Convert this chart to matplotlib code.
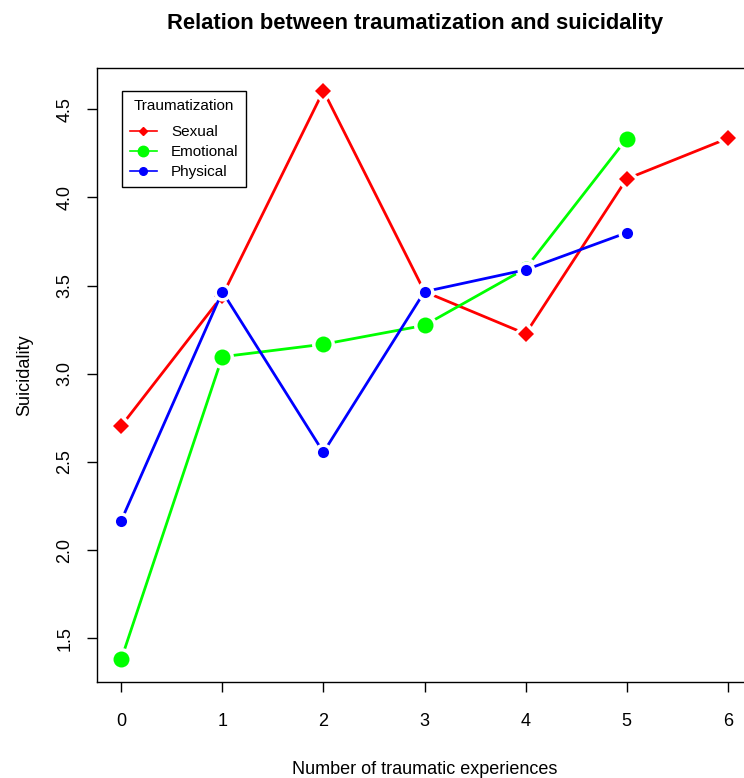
import matplotlib
matplotlib.use("Agg")
import matplotlib.pyplot as plt
from matplotlib.lines import Line2D

plt.rcParams['font.family'] = ['Liberation Sans', 'DejaVu Sans']

x_sexual = [0, 1, 2, 3, 4, 5, 6]
sexual = [2.705, 3.443, 4.605, 3.466, 3.227, 4.105, 4.335]
x_emotional = [0, 1, 2, 3, 4, 5]
emotional = [1.382, 3.097, 3.168, 3.275, 3.597, 4.333]
x_physical = [0, 1, 2, 3, 4, 5]
physical = [2.168, 3.466, 2.555, 3.466, 3.590, 3.800]
xticks = [0, 1, 2, 3, 4, 5, 6]
yticks = [1.5, 2.0, 2.5, 3.0, 3.5, 4.0, 4.5]

W, H = 744, 778
fig = plt.figure(figsize=(W / 100, H / 100), dpi=100)
ax = fig.add_axes([97 / W, (H - 682) / H, (752 - 97) / W, (682 - 68) / H])

series = [
    (x_sexual, sexual, '#ff0000', 'D', 8.0, 'Sexual'),
    (x_emotional, emotional, '#00ff00', 'o', 11.5, 'Emotional'),
    (x_physical, physical, '#0000ff', 'o', 8.0, 'Physical'),
]
z = 3
for xs, ys, c, m, ms, lab in series:
    # line with white gap masks around points (R type="b")
    ax.plot(xs, ys, color=c, lw=2, marker=m, ms=ms + 5, mfc='white', mec='white',
            mew=0, zorder=z)
    ax.plot(xs, ys, ls='none', marker=m, ms=ms, mfc=c, mec=c, mew=0, zorder=z + 0.5)
    z += 1

allx = x_sexual + x_emotional + x_physical
ally = sexual + emotional + physical
xr = max(allx) - min(allx)
yr = max(ally) - min(ally)
ax.set_xlim(min(allx) - 0.04 * xr, max(allx) + 0.04 * xr)
ax.set_ylim(min(ally) - 0.04 * yr, max(ally) + 0.04 * yr)

ax.set_xticks(xticks)
ax.set_xticklabels([str(v) for v in xticks])
ax.set_yticks(yticks)
ax.set_yticklabels([f"{v:.1f}" for v in yticks], rotation=90, va='center')
ax.tick_params(direction='out', length=7, width=1, labelsize=13)
ax.tick_params(axis='x', pad=15)
ax.tick_params(axis='y', pad=10)
for s in ax.spines.values():
    s.set_linewidth(1)
ax.spines['right'].set_visible(False)

ax.set_xlabel('Number of traumatic experiences', fontsize=13, labelpad=23)
ax.set_ylabel('Suicidality', fontsize=13, labelpad=16.5)

fig.text(415 / W, 1 - 24 / H, 'Relation between traumatization and suicidality',
         ha='center', va='center', fontsize=15.8, fontweight='bold')

handles = [
    Line2D([], [], color='#ff0000', lw=1.2, marker='D', ms=4.5),
    Line2D([], [], color='#00ff00', lw=1.2, marker='o', ms=7.5),
    Line2D([], [], color='#0000ff', lw=1.2, marker='o', ms=5.5),
]
leg = ax.legend(handles, ['Sexual', 'Emotional', 'Physical'], title='Traumatization',
                loc='upper left',
                bbox_to_anchor=((122 - 97) / (752 - 97), 1 - (91 - 68) / (682 - 68)),
                fontsize=11, title_fontsize=11, frameon=True, fancybox=False,
                edgecolor='black', handlelength=1.8, handletextpad=0.9,
                labelspacing=0.4, borderpad=0.5, borderaxespad=0)
leg.get_frame().set_linewidth(1)
leg.get_frame().set_alpha(1)
leg._legend_box.sep = 9

fig.savefig('out.png', dpi=100)
